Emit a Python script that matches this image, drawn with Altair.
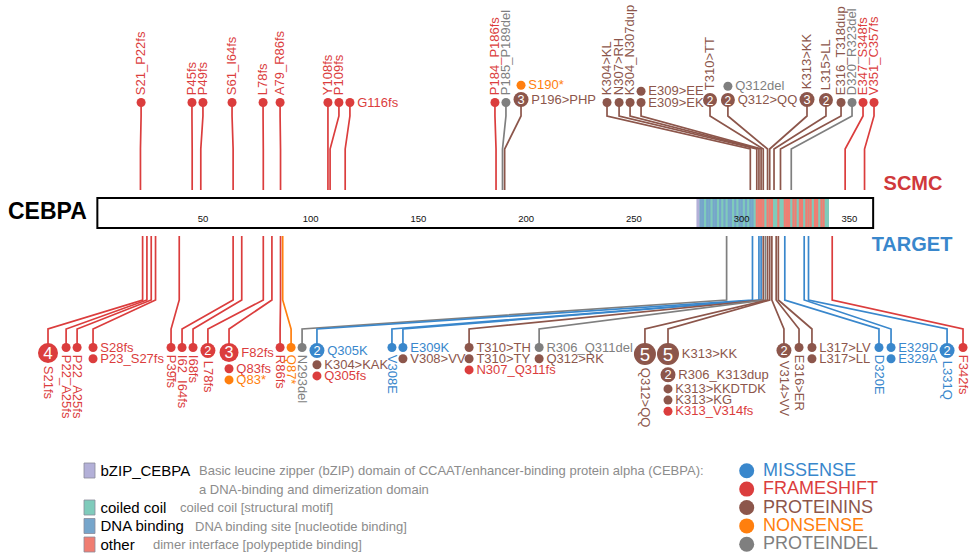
import altair as alt
import pandas as pd

# ---------------------------------------------------------------- protein
PROTEIN = "CEBPA"
BAR_START, BAR_END = 1, 361
TICKS = [50, 100, 150, 200, 250, 300, 350]

DOMAIN_NAMES = ["bZIP_CEBPA", "coiled coil", "DNA binding", "other"]
DOMAIN_DESC = [
    ["Basic leucine zipper (bZIP) domain of CCAAT/enhancer-binding protein alpha (CEBPA):",
     "a DNA-binding and dimerization domain"],
    ["coiled coil [structural motif]"],
    ["DNA binding site [nucleotide binding]"],
    ["dimer interface [polypeptide binding]"],
]
BZIP_SPAN = [279, 340.5]
COIL_SPAN = [280.5, 340.5]
DNA_BINDING_SITES = [281, 282, 284, 285, 287, 288, 290, 292, 294, 295, 297,
                     299, 300, 302, 304, 305]
DIMER_SITES = [307, 308, 309, 310, 312, 313, 314, 317, 320, 321, 322, 324, 325,
               327, 328, 330, 331, 332, 334, 335, 337, 338]

# ---------------------------------------------------------------- classes
CLASS_CODES = ["M", "F", "I", "N", "D"]
CLASS_NAMES = ["MISSENSE", "FRAMESHIFT", "PROTEININS", "NONSENSE", "PROTEINDEL"]
CLASS_COLORS = ["#3987cc", "#db3d3d", "#8c564b", "#ff7f0e", "#7f7f7f"]

# ---------------------------------------------------------------- SCMC (upper track)
SCMC_SITES = [21, 45, 49, 64, 78, 86, 108, 109, 116, 186, 189, 190, 304, 307, 308,
              309, 310, 312, 313, 315, 318, 323, 348, 357]
SCMC_MUTATIONS = [
    [("S21_P22fs", "F", 1)],
    [("P45fs", "F", 1)],
    [("P49fs", "F", 1)],
    [("S61_I64fs", "F", 1)],
    [("L78fs", "F", 1)],
    [("A79_R86fs", "F", 1)],
    [("Y108fs", "F", 1)],
    [("P109fs", "F", 1)],
    [("G116fs", "F", 1)],
    [("P184_P186fs", "F", 1)],
    [("P185_P189del", "D", 1)],
    [("P196>PHP", "I", 3), ("S190*", "N", 1)],
    [("K304>KL", "I", 1)],
    [("N307>RH", "I", 1)],
    [("K304_N307dup", "I", 1)],
    [("E309>EK", "I", 1), ("E309>EE", "I", 1)],
    [("T310>TT", "I", 2)],
    [("Q312>QQ", "I", 2), ("Q312del", "D", 1)],
    [("K313>KK", "I", 3)],
    [("L315>LL", "I", 2)],
    [("E316_T318dup", "I", 1)],
    [("D320_R323del", "D", 1)],
    [("E347_S348fs", "F", 1)],
    [("V351_C357fs", "F", 1)],
]

# ---------------------------------------------------------------- TARGET (lower track)
TARGET_SITES = [22, 24, 26, 28, 39, 64, 68, 78, 82, 86, 87, 293, 305, 308, 309, 310,
                311, 312, 313, 314, 316, 317, 320, 329, 331, 342]
TARGET_MUTATIONS = [
    [("S21fs", "F", 4)],
    [("P22_A25fs", "F", 1)],
    [("P22_A25fs", "F", 1)],
    [("S28fs", "F", 1), ("P23_S27fs", "F", 1)],
    [("P39fs", "F", 1)],
    [("I62_I64fs", "F", 1)],
    [("I68fs", "F", 1)],
    [("L78fs", "F", 2)],
    [("F82fs", "F", 3), ("Q83fs", "F", 1), ("Q83*", "N", 1)],
    [("R86fs", "F", 1)],
    [("Q87*", "N", 1)],
    [("N293del", "D", 1)],
    [("Q305K", "M", 2), ("K304>KAK", "I", 1), ("Q305fs", "F", 1)],
    [("V308E", "M", 1)],
    [("E309K", "M", 1), ("V308>VV", "I", 1)],
    [("T310>TH", "I", 1), ("T310>TY", "I", 1), ("N307_Q311fs", "F", 1)],
    [("R306_Q311del", "D", 1), ("Q312>RK", "I", 1)],
    [("Q312>QQ", "I", 5)],
    [("K313>KK", "I", 5), ("R306_K313dup", "I", 2), ("K313>KKDTDK", "I", 1),
     ("K313>KG", "I", 1), ("K313_V314fs", "F", 1)],
    [("V314>VV", "I", 2)],
    [("E316>ER", "I", 1)],
    [("L317>LV", "I", 1), ("L317>LL", "I", 1)],
    [("D320E", "M", 1)],
    [("E329D", "M", 1), ("E329A", "M", 1)],
    [("L331Q", "M", 2)],
    [("F342fs", "F", 1)],
]

# ---------------------------------------------------------------- layout
W, H = 972, 558
ORIGIN_PX, PX_PER_RES = 95.2, 2.155
FONT = "Liberation Sans, Arial, Helvetica, sans-serif"


def res_at(px):
    """Residue coordinate that lands on a given horizontal pixel."""
    return (px - ORIGIN_PX) / PX_PER_RES


# disc placement (residue units) after spreading the labels apart
SCMC_SPREAD = [21.3, 44.9, 50.0, 63.5, 77.9, 85.8, 108.0, 113.1, 118.2, 185.5, 190.6,
               197.6, 237.5, 243.1, 248.2, 253.3, 285.3, 293.6, 330.3, 339.1, 346.1,
               351.2, 356.3, 361.4]
TARGET_SPREAD = [-21.9, -13.5, -8.4, -1.0, 35.2, 40.3, 45.4, 52.3, 62.1, 85.8, 90.9,
                 96.0, 102.9, 137.7, 142.8, 173.5, 206.0, 255.1, 265.8, 319.6, 326.6,
                 332.6, 363.7, 369.3, 395.3, 402.7]
SCMC_FLAT_LABELS = {8}      # single discs whose label is written sideways
TARGET_FLAT_LABELS = set()

TRACKS = [
    # name, sites, mutations, spread, flat, radius by count, direction,
    # bar edge, knee near bar, knee near disc, disc base
    ("SCMC", SCMC_SITES, SCMC_MUTATIONS, SCMC_SPREAD, SCMC_FLAT_LABELS,
     {1: 4.5, 2: 7.0, 3: 7.5}, -1, 190, 149, 116, 107),
    ("TARGET", TARGET_SITES, TARGET_MUTATIONS, TARGET_SPREAD, TARGET_FLAT_LABELS,
     {1: 4.5, 2: 7.5, 3: 9.5, 4: 10.0, 5: 11.0}, 1, 236, 300, 329, 343),
]
STACK_GAP = 2.2
LABEL_GAP = 2.8

line_rows, disc_rows, num_rows, label_rows = [], [], [], []
for (name, sites, muts, spread, flat, radius, direction,
     edge, knee_bar, knee_disc, base) in TRACKS:
    for gi, (site, stack, sx) in enumerate(zip(sites, muts, spread)):
        gid = f"{name}-{gi}"
        r0 = radius[stack[0][2]]
        c0 = base + direction * r0
        path = [(site, edge), (site, knee_bar), (sx, knee_disc), (sx, c0)]
        for step, (x, y) in enumerate(path):
            line_rows.append(dict(gid=gid, step=step, x=x, y=y, cls=stack[0][1]))
        sideways = len(stack) > 1 or gi in flat
        cy, prev_r = c0, None
        for k, (lab, cls, n) in enumerate(stack):
            r = radius[n]
            if k:
                cy = cy + direction * (prev_r + STACK_GAP + r)
            prev_r = r
            disc_rows.append(dict(x=sx, y=cy, size=(2 * r) ** 2, cls=cls))
            if n > 1:
                num_rows.append(dict(x=sx, y=cy + 0.5, text=str(n), fs=r * 1.7))
            if sideways:
                label_rows.append(dict(x=sx + (r + LABEL_GAP) / PX_PER_RES, y=cy,
                                       text=lab, cls=cls, orient="flat"))
            else:
                label_rows.append(dict(x=sx, y=cy + direction * (r + LABEL_GAP),
                                       text=lab, cls=cls,
                                       orient="up" if direction < 0 else "down"))

lines = pd.DataFrame(line_rows)
discs = pd.DataFrame(disc_rows)
nums = pd.DataFrame(num_rows)
labels = pd.DataFrame(label_rows)

XS = alt.Scale(domain=[res_at(0), res_at(W)], nice=False, zero=False)
YS = alt.Scale(domain=[0, H], reverse=True, nice=False, zero=False)
CS = alt.Scale(domain=CLASS_CODES, range=CLASS_COLORS)


def X(field="x"):
    return alt.X(f"{field}:Q", scale=XS, axis=None)


def Y(field="y"):
    return alt.Y(f"{field}:Q", scale=YS, axis=None)


COLOR = alt.Color("cls:N", scale=CS, legend=None)

# ---------------------------------------------------------------- protein bar
BAR_TOP, BAR_BOTTOM = 198, 228
DOMAIN_COLORS = ["#b3b0d8", "#7fcbbb", "#76a5cb", "#f07d72"]

segments = [dict(x=BZIP_SPAN[0], x2=BZIP_SPAN[1], kind=0),
            dict(x=COIL_SPAN[0], x2=COIL_SPAN[1], kind=1)]
segments += [dict(x=s - 0.5, x2=s + 0.5, kind=2) for s in DNA_BINDING_SITES]
segments += [dict(x=s - 0.5, x2=s + 0.5, kind=3) for s in DIMER_SITES]
seg = pd.DataFrame(segments)
seg["y"], seg["y2"] = BAR_TOP + 1, BAR_BOTTOM - 1
seg["col"] = [DOMAIN_COLORS[k] for k in seg["kind"]]

bar = pd.DataFrame([dict(x=BAR_START, x2=BAR_END, y=BAR_TOP, y2=BAR_BOTTOM)])

bar_fill = alt.Chart(bar).mark_rect(color="white").encode(
    x=X(), x2="x2:Q", y=Y(), y2="y2:Q")
bar_domains = alt.Chart(seg).mark_rect().encode(
    x=X(), x2="x2:Q", y=Y(), y2="y2:Q",
    color=alt.Color("col:N", scale=None, legend=None))
bar_outline = alt.Chart(bar).mark_rect(
    fillOpacity=0, stroke="black", strokeWidth=2).encode(
    x=X(), x2="x2:Q", y=Y(), y2="y2:Q")

ticks = pd.DataFrame(dict(x=TICKS, y=[219] * len(TICKS), text=[str(t) for t in TICKS]))
tick_text = alt.Chart(ticks).mark_text(
    font=FONT, fontSize=9.5, color="#111", baseline="middle").encode(
    x=X(), y=Y(), text="text:N")

# ---------------------------------------------------------------- lollipops
stems = alt.Chart(lines).mark_line(strokeWidth=1.7).encode(
    x=X(), y=Y(), detail="gid:N", order="step:Q", color=COLOR)
heads = alt.Chart(discs).mark_circle(opacity=1).encode(
    x=X(), y=Y(), color=COLOR, size=alt.Size("size:Q", scale=None, legend=None))
counts = alt.Chart(nums).mark_text(
    font=FONT, color="white", baseline="middle").encode(
    x=X(), y=Y(), text="text:N", size=alt.Size("fs:Q", scale=None, legend=None))


def label_layer(orient, angle):
    return alt.Chart(labels[labels.orient == orient]).mark_text(
        font=FONT, fontSize=13, align="left", baseline="middle", angle=angle).encode(
        x=X(), y=Y(), text="text:N", color=COLOR)


lab_up = label_layer("up", 270)
lab_down = label_layer("down", 90)
lab_flat = label_layer("flat", 0)

# ---------------------------------------------------------------- track names
names = pd.DataFrame([dict(x=res_at(8), y=212, text=PROTEIN)])
protein_name = alt.Chart(names).mark_text(
    font=FONT, fontWeight="bold", fontSize=23, align="left", baseline="middle",
    color="black").encode(x=X(), y=Y(), text="text:N")

track_names = pd.DataFrame([
    dict(x=res_at(913), y=184, text="SCMC", col="#d0393b"),
    dict(x=res_at(912), y=245, text="TARGET", col="#3987cc"),
])
track_title = alt.Chart(track_names).mark_text(
    font=FONT, fontWeight="bold", fontSize=20, baseline="middle").encode(
    x=X(), y=Y(), text="text:N", color=alt.Color("col:N", scale=None, legend=None))

# ---------------------------------------------------------------- legends
ROW0, ROW_STEP = 470.5, 18.5
dom_rows = [0, 2, 3, 4]
desc_px = [[199, 199], [180], [195], [153]]

swatch = pd.DataFrame([dict(x=res_at(84), x2=res_at(95),
                            y=ROW0 + r * ROW_STEP - 7.5, y2=ROW0 + r * ROW_STEP + 7.5,
                            col=c) for r, c in zip(dom_rows, DOMAIN_COLORS)])
legend_swatch = alt.Chart(swatch).mark_rect(stroke="#8a8a9a", strokeWidth=0.8).encode(
    x=X(), x2="x2:Q", y=Y(), y2="y2:Q",
    color=alt.Color("col:N", scale=None, legend=None))

dom_names = pd.DataFrame([dict(x=res_at(100.5), y=ROW0 + r * ROW_STEP, text=n)
                          for r, n in zip(dom_rows, DOMAIN_NAMES)])
legend_names = alt.Chart(dom_names).mark_text(
    font=FONT, fontSize=15, align="left", baseline="middle", color="black").encode(
    x=X(), y=Y(), text="text:N")

desc_rows = []
for r, lines_, xs in zip(dom_rows, DOMAIN_DESC, desc_px):
    for k, (t, px) in enumerate(zip(lines_, xs)):
        desc_rows.append(dict(x=res_at(px), y=ROW0 + (r + k) * ROW_STEP + 0.5, text=t))
legend_desc = alt.Chart(pd.DataFrame(desc_rows)).mark_text(
    font=FONT, fontSize=13, align="left", baseline="middle", color="#8c8c8c").encode(
    x=X(), y=Y(), text="text:N")

cls_leg = pd.DataFrame(dict(
    x=[res_at(746.7)] * 5, xt=[res_at(763)] * 5,
    y=[470.7 + k * 18.4 for k in range(5)],
    cls=CLASS_CODES, text=CLASS_NAMES))
legend_dots = alt.Chart(cls_leg).mark_circle(size=225, opacity=1).encode(
    x=X(), y=Y(), color=COLOR)
legend_cls = alt.Chart(cls_leg).mark_text(
    font=FONT, fontSize=18, align="left", baseline="middle").encode(
    x=X("xt"), y=Y(), text="text:N", color=COLOR)

chart = alt.layer(
    bar_fill, bar_domains, bar_outline, tick_text,
    stems, heads, counts, lab_up, lab_down, lab_flat,
    protein_name, track_title,
    legend_swatch, legend_names, legend_desc, legend_dots, legend_cls,
).properties(
    width=W, height=H, padding=0, autosize=alt.AutoSizeParams(type="none"),
    background="white",
).configure_view(stroke=None)

chart.save("out.html", embed_options={"renderer": "svg", "actions": False})
